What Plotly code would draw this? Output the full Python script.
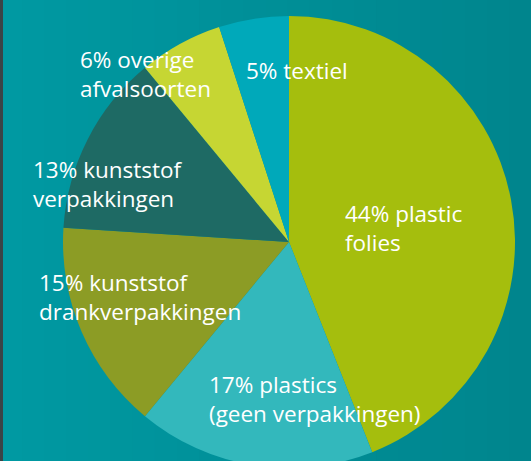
import plotly.graph_objects as go

# Data
categories = ["plastic folies", "plastics (geen verpakkingen)", "kunststof drankverpakkingen",
              "kunststof verpakkingen", "overige afvalsoorten", "textiel"]
values = [44, 17, 15, 13, 6, 5]
label_lines = [["44% plastic", "folies"],
               ["17% plastics", "(geen verpakkingen)"],
               ["15% kunststof", "drankverpakkingen"],
               ["13% kunststof", "verpakkingen"],
               ["6% overige", "afvalsoorten"],
               ["5% textiel"]]
slice_colors = ["#a5be0d", "#33b8bc", "#8c9c25", "#1e6a64", "#c6d633", "#00a9ba"]

W, H = 531, 480

# label anchor positions in pixels (left edge, vertical centre)
label_pos = [(343, 228), (207, 399), (37, 297), (31, 184), (78, 74), (244, 70)]

fig = go.Figure()
fig.add_trace(go.Pie(
    labels=categories, values=values, sort=False, direction="clockwise", rotation=0,
    marker=dict(colors=slice_colors, line=dict(width=0)),
    textinfo="none", hoverinfo="label+percent", showlegend=False,
    domain=dict(x=[(289 - 226) / W, (289 + 226) / W], y=[1 - 469 / H, 1 - 15 / H]),
))

for lines, (px, py) in zip(label_lines, label_pos):
    fig.add_annotation(text="<br>".join(lines), xref="paper", yref="paper",
                       x=px / W, y=1 - py / H, xanchor="left", yanchor="middle",
                       align="left", showarrow=False,
                       font=dict(family="Open Sans", size=22.5, color="white"))

# background gradient strips
n = 24
c0 = (0, 0x99, 0xa2)
c1 = (0, 0x85, 0x8d)
shapes = []
for i in range(n):
    t = i / (n - 1)
    col = "rgb(%d,%d,%d)" % tuple(round(a + (b - a) * t) for a, b in zip(c0, c1))
    shapes.append(dict(type="rect", xref="paper", yref="paper", x0=i / n, x1=(i + 1) / n + 0.002,
                       y0=0, y1=1, fillcolor=col, line=dict(width=0), layer="below"))
shapes.append(dict(type="rect", xref="paper", yref="paper", x0=0, x1=3 / W, y0=0, y1=1,
                   fillcolor="#3b4446", line=dict(width=0), layer="below"))

fig.update_layout(width=W, height=H, margin=dict(l=0, r=0, t=0, b=0),
                  paper_bgcolor="#008f98", plot_bgcolor="#008f98", shapes=shapes)

fig.write_html("out.html", config={"displayModeBar": False},
               post_script="document.body.style.margin='0';document.body.style.overflow='hidden';document.documentElement.style.overflow='hidden';")
